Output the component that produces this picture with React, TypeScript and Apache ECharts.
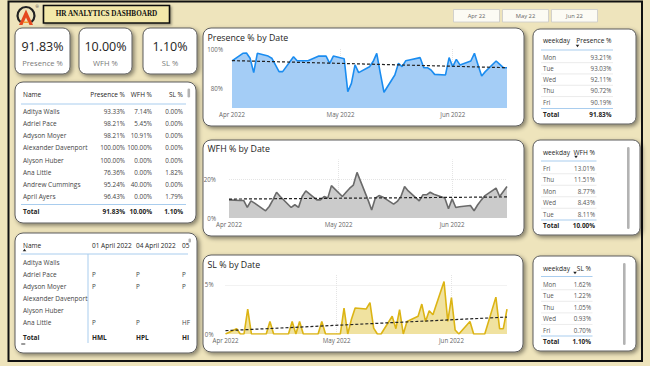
import React, { useEffect, useRef } from 'react';
import * as echarts from 'echarts';

// ---------- data ----------
const dates = [
  '2022-04-01', '2022-04-04', '2022-04-05', '2022-04-06', '2022-04-07', '2022-04-08',
  '2022-04-11', '2022-04-12', '2022-04-13', '2022-04-14', '2022-04-15',
  '2022-04-18', '2022-04-19', '2022-04-20', '2022-04-21', '2022-04-22',
  '2022-04-25', '2022-04-26', '2022-04-27', '2022-04-28', '2022-04-29',
  '2022-05-02', '2022-05-03', '2022-05-04', '2022-05-05', '2022-05-06',
  '2022-05-09', '2022-05-10', '2022-05-11', '2022-05-12', '2022-05-13',
  '2022-05-16', '2022-05-17', '2022-05-18', '2022-05-19', '2022-05-20',
  '2022-05-23', '2022-05-24', '2022-05-25', '2022-05-26', '2022-05-27',
  '2022-05-30', '2022-05-31', '2022-06-01', '2022-06-02', '2022-06-03',
  '2022-06-06', '2022-06-07', '2022-06-08', '2022-06-09', '2022-06-10',
  '2022-06-13', '2022-06-14', '2022-06-15', '2022-06-16',
];
const presenceValues = [
  94.0, 97.8, 98.0, 95.3, 88.0, 97.8,
  96.4, 95.3, 91.9, 88.5, 88.5,
  96.1, 94.0, 94.0, 94.0, 94.0,
  96.4, 96.4, 96.4, 92.7, 96.4,
  95.0, 78.3, 82.5, 91.9, 88.0,
  91.0, 93.6, 97.8, 87.6, 78.0,
  86.8, 92.7, 91.0, 94.0, 94.4,
  95.6, 90.5, 90.5, 89.3, 87.1,
  86.8, 95.6, 91.0, 94.7, 91.9,
  93.9, 97.8, 91.9, 86.3, 88.5,
  93.9, 92.2, 90.5, 90.5,
];
const wfhValues = [
  9.3, 9.0, 9.0, 5.4, 8.8, 7.6,
  3.7, 5.9, 9.3, 13.2, 11.0,
  5.4, 6.8, 5.4, 11.0, 13.9,
  9.3, 9.3, 11.0, 10.2, 16.6,
  11.0, 13.2, 15.3, 16.9, 23.4,
  9.3, 4.1, 10.2, 11.5, 10.8,
  7.1, 8.5, 11.0, 16.1, 13.9,
  8.8, 11.9, 11.9, 13.2, 12.2,
  10.2, 4.7, 9.8, 5.4, 5.8,
  6.4, 3.7, 6.8, 9.3, 11.5,
  15.3, 11.0, 13.6, 16.1,
];
const slValues = [
  0, 0.54, 0, 0, 2.53, 0,
  0, 0, 1.28, 0, 0,
  0, 1.28, 0, 1.28, 0,
  0, 0, 1.28, 0, 0,
  0, 2.64, 0, 1.5, 2.64,
  2.55, 3.2, 0.6, 0, 0,
  1.8, 0.54, 2.47, 0, 1.28,
  1.8, 3.04, 1.28, 2.36, 1.96,
  5.34, 1.28, 3.7, 0.4, 0,
  1.28, 0, 0, 0, 0,
  3.75, 0.54, 0.54, 2.53,
];
const presenceTrend = [94.1, 90.5];
const wfhTrend = [9.7, 10.8];
const slTrend = [0.34, 1.72];

const monthTicks = ['2022-04-01', '2022-05-01', '2022-06-01'];
const monthLabels = ['Apr 2022', 'May 2022', 'Jun 2022'];
const presenceAxisLabels = [80, 100];
const wfhAxisLabels = [0, 20];
const slAxisLabels = [0, 5];

const kpiValues = ['91.83%', '10.00%', '1.10%'];
const kpiLabels = ['Presence %', 'WFH %', 'SL %'];

const empColumns = ['Name', 'Presence %', 'WFH %', 'SL %'];
const empNames = ['Aditya Walls', 'Adriel Pace', 'Adyson Moyer', 'Alexander Davenport', 'Alyson Huber', 'Ana Little', 'Andrew Cummings', 'April Ayers'];
const empPresence = ['93.33%', '98.21%', '98.21%', '100.00%', '100.00%', '76.36%', '95.24%', '96.43%'];
const empWfh = ['7.14%', '5.45%', '10.91%', '100.00%', '0.00%', '0.00%', '40.00%', '0.00%'];
const empSl = ['0.00%', '0.00%', '0.00%', '0.00%', '0.00%', '1.82%', '0.00%', '1.79%'];
const empTotals = ['91.83%', '10.00%', '1.10%'];

const attNames = ['Aditya Walls', 'Adriel Pace', 'Adyson Moyer', 'Alexander Davenport', 'Alyson Huber', 'Ana Little'];
const attColumns = ['01 April 2022', '04 April 2022', '05'];
const attCells = [
  ['', '', ''],
  ['P', 'P', 'P'],
  ['P', 'P', 'P'],
  ['', '', ''],
  ['', '', ''],
  ['P', 'P', 'HF'],
];
const attTotals = ['HML', 'HPL', 'HI'];

const presenceWeekdays = ['Mon', 'Tue', 'Wed', 'Thu', 'Fri'];
const presenceByWeekday = ['93.21%', '93.03%', '92.11%', '90.72%', '90.19%'];
const wfhWeekdays = ['Fri', 'Thu', 'Mon', 'Wed', 'Tue'];
const wfhByWeekday = ['13.01%', '11.51%', '8.77%', '8.43%', '8.11%'];
const slWeekdays = ['Mon', 'Tue', 'Thu', 'Wed', 'Fri'];
const slByWeekday = ['1.62%', '1.22%', '1.05%', '0.93%', '0.70%'];
const weekdayTotals = ['91.83%', '10.00%', '1.10%'];

const monthButtons = ['Apr 22', 'May 22', 'Jun 22'];

// ---------- helpers ----------
const FONT = '"Segoe UI", "Open Sans", sans-serif';
const DAY = 86400000;
const toTs = (s: string) => new Date(s).getTime(); // date-only ISO => UTC midnight
const monthTs = monthTicks.map(toTs);

function txt(x: number, y: number, s: string, o: any = {}) {
  const align = o.align || 'left';
  return {
    type: 'text', x, y, z: 100, silent: true,
    style: {
      text: s,
      fill: o.color || '#333',
      fontSize: o.size || 6.5,
      fontFamily: o.family || FONT,
      fontWeight: o.weight || 'normal',
      align, textAlign: align,
      verticalAlign: 'middle', textVerticalAlign: 'middle',
    },
  };
}
function hline(x1: number, x2: number, y: number, color: string, w = 1) {
  return { type: 'line', z: 50, silent: true, shape: { x1, y1: y, x2, y2: y }, style: { stroke: color, lineWidth: w } };
}
function vline(x: number, y1: number, y2: number, color: string, w = 1) {
  return { type: 'line', z: 50, silent: true, shape: { x1: x, y1, x2: x, y2 }, style: { stroke: color, lineWidth: w } };
}
function panel(x1: number, y1: number, x2: number, y2: number, r = 7) {
  return {
    type: 'rect', z: 1, silent: true,
    shape: { x: x1, y: y1, width: x2 - x1, height: y2 - y1, r },
    style: { fill: '#ffffff', stroke: '#5c5c5c', lineWidth: 1, shadowBlur: 4, shadowOffsetX: 2, shadowOffsetY: 2, shadowColor: 'rgba(0,0,0,0.45)' },
  };
}
function sortArrow(x: number, y: number, up = false) {
  const pts = up ? [[x - 1.8, y + 1.2], [x + 1.8, y + 1.2], [x, y - 1.2]] : [[x - 1.8, y - 1.2], [x + 1.8, y - 1.2], [x, y + 1.2]];
  return { type: 'polygon', z: 60, silent: true, shape: { points: pts }, style: { fill: '#222' } };
}
function scrollBar(x: number, y1: number, y2: number) {
  return { type: 'rect', z: 60, silent: true, shape: { x, y: y1, width: 2.6, height: y2 - y1, r: 1.3 }, style: { fill: '#b3b3b3' } };
}

const BLUE_LINE = '#a9cdee';
const ROW_LINE = '#e6e6e6';
const HEAD = '#252423';
const BODY = '#444';

function weekdayTable(cfg: any, names: string[], values: string[], header: string, total: string) {
  const out: any[] = [];
  out.push(txt(543, cfg.headY, 'weekday', { color: HEAD, size: 6.6 }));
  out.push(txt(cfg.right, cfg.headY, header, { color: HEAD, size: 6.6, align: 'right' }));
  out.push(sortArrow(cfg.arrowX, cfg.arrowY));
  out.push(hline(541, cfg.right + 1.5, cfg.headLine, BLUE_LINE, 1));
  names.forEach((n, i) => {
    const y = cfg.row0 + i * cfg.step;
    out.push(txt(543, y, n, { color: '#555', size: 6.2 }));
    out.push(txt(cfg.right, y, values[i], { color: '#555', size: 6.2, align: 'right' }));
    if (i < names.length - 1) out.push(hline(541, cfg.right + 1.5, y + cfg.step / 2, ROW_LINE, 0.8));
  });
  out.push(hline(541, cfg.right + 1.5, cfg.totLine, BLUE_LINE, 1));
  out.push(txt(543, cfg.totY, 'Total', { color: HEAD, size: 6.4, weight: 'bold' }));
  out.push(txt(cfg.right, cfg.totY, total, { color: HEAD, size: 6.4, weight: 'bold', align: 'right' }));
  return out;
}

function buildGraphics() {
  const g: any[] = [];
  g.push({ type: 'rect', z: 0, silent: true, shape: { x: 8.5, y: 1.5, width: 633.5, height: 359.5 }, style: { fill: 'none', stroke: '#111', lineWidth: 2 } });

  // logo
  g.push({ type: 'arc', z: 60, silent: true, shape: { cx: 26, cy: 15.5, r: 8.5, startAngle: Math.PI / 2 + 0.7, endAngle: Math.PI / 2 - 0.7 + Math.PI * 2, clockwise: true }, style: { stroke: '#222', lineWidth: 2.2, fill: 'none' } });
  g.push({ type: 'polygon', z: 61, silent: true, shape: { points: [[19, 25], [26, 9.5], [33, 25], [29.5, 25], [26, 17.5], [22.5, 25]] }, style: { fill: '#e5481f' } });
  g.push({ type: 'polygon', z: 62, silent: true, shape: { points: [[23.8, 21.5], [28.2, 21.5], [28.8, 23], [23.2, 23]] }, style: { fill: '#f29a2e' } });
  g.push(txt(35.5, 6.5, '®', { size: 4, color: '#333' }));

  // title box
  g.push({ type: 'rect', z: 5, silent: true, shape: { x: 43.5, y: 5.5, width: 126, height: 17.5 }, style: { fill: '#f3e8a9', stroke: '#111', lineWidth: 1.6, shadowBlur: 2, shadowOffsetX: 1.5, shadowOffsetY: 1.5, shadowColor: 'rgba(0,0,0,0.35)' } });
  g.push(txt(106.5, 14.3, 'HR ANALYTICS DASHBOARD', { size: 7.2, weight: 'bold', family: '"Liberation Serif", "DejaVu Serif", serif', color: '#111', align: 'center' }));

  // month buttons
  const btnX = [453, 502, 551];
  monthButtons.forEach((m, i) => {
    g.push({ type: 'rect', z: 5, silent: true, shape: { x: btnX[i] + 0.5, y: 9.5, width: 46, height: 12.5 }, style: { fill: '#fcfbf4', stroke: '#c9c9c9', lineWidth: 0.8 } });
    g.push(txt(btnX[i] + 23.5, 15.8, m, { size: 5.8, color: '#666', align: 'center' }));
  });

  // KPI cards
  const kpiBox = [[15, 70], [79, 132], [143, 197]];
  kpiBox.forEach((b, i) => {
    g.push(panel(b[0], 28, b[1], 74, 7));
    g.push(txt((b[0] + b[1]) / 2, 46.5, kpiValues[i], { size: 12.5, color: HEAD, align: 'center' }));
    g.push(txt((b[0] + b[1]) / 2, 63.3, kpiLabels[i], { size: 7.6, color: '#7a7a7a', align: 'center' }));
  });

  // employee table
  g.push(panel(15, 82, 196, 223, 8));
  const colR = [125, 152, 183];
  g.push(txt(23, 94, empColumns[0], { color: HEAD, size: 6.5 }));
  for (let c = 0; c < 3; c++) g.push(txt(colR[c], 94, empColumns[c + 1], { color: HEAD, size: 6.5, align: 'right' }));
  g.push(scrollBar(187.5, 88.5, 97.5));
  g.push(hline(21, 186, 104, BLUE_LINE, 1));
  empNames.forEach((n, i) => {
    const y = 111 + i * 12.25;
    g.push(txt(23, y, n, { color: BODY, size: 6.5 }));
    g.push(txt(colR[0], y, empPresence[i], { color: BODY, size: 6.3, align: 'right' }));
    g.push(txt(colR[1], y, empWfh[i], { color: BODY, size: 6.3, align: 'right' }));
    g.push(txt(colR[2], y, empSl[i], { color: BODY, size: 6.3, align: 'right' }));
  });
  g.push(hline(21, 186, 204.5, BLUE_LINE, 1));
  g.push(txt(23, 211.5, 'Total', { color: HEAD, size: 6.5, weight: 'bold' }));
  empTotals.forEach((t, c) => g.push(txt(colR[c], 211.5, t, { color: HEAD, size: 6.5, weight: 'bold', align: 'right' })));

  // attendance matrix
  g.push(panel(15, 233, 197, 353, 8));
  const attX = [92, 136, 182];
  g.push(txt(23, 245, 'Name', { color: HEAD, size: 6.5 }));
  g.push(sortArrow(24.5, 250, true));
  attColumns.forEach((c, i) => g.push(txt(attX[i], 245, c, { color: HEAD, size: 6.5 })));
  g.push({ type: 'rect', z: 60, silent: true, shape: { x: 188.5, y: 238.5, width: 2.5, height: 4, r: 1 }, style: { fill: '#b3b3b3' } });
  g.push(hline(21, 188, 254, BLUE_LINE, 1));
  g.push(vline(88, 254, 343, BLUE_LINE, 1));
  attNames.forEach((n, i) => {
    const y = 262 + i * 12;
    g.push(txt(23, y, n, { color: BODY, size: 6.5 }));
    attCells[i].forEach((v, c) => { if (v) g.push(txt(attX[c], y, v, { color: BODY, size: 6.3 })); });
  });
  g.push(txt(23, 337.5, 'Total', { color: HEAD, size: 6.5, weight: 'bold' }));
  attTotals.forEach((t, c) => g.push(txt(attX[c], 337.5, t, { color: HEAD, size: 6.5, weight: 'bold' })));
  g.push({ type: 'rect', z: 60, silent: true, shape: { x: 21, y: 343, width: 4.5, height: 2, r: 1 }, style: { fill: '#9a9a9a' } });

  // chart panels + titles
  g.push(panel(203, 28, 524, 126, 8));
  g.push(panel(203, 140, 524, 236, 8));
  g.push(panel(203, 255, 523, 352, 8));
  g.push(txt(207.5, 37.5, 'Presence % by Date', { size: 8.8, color: HEAD }));
  g.push(txt(207.5, 148.5, 'WFH % by Date', { size: 8.8, color: HEAD }));
  g.push(txt(207.5, 264.5, 'SL % by Date', { size: 8.8, color: HEAD }));

  // weekday tables
  g.push(panel(533, 29, 636, 124, 7));
  g.push(...weekdayTable({ headY: 40, right: 611.5, arrowX: 577.5, arrowY: 46, headLine: 50, row0: 57, step: 11.3, totLine: 108.5, totY: 114.5 }, presenceWeekdays, presenceByWeekday, 'Presence %', weekdayTotals[0]));
  g.push(panel(533, 140, 640, 235, 7));
  g.push(...weekdayTable({ headY: 152, right: 595, arrowX: 576, arrowY: 157, headLine: 161, row0: 168, step: 11.5, totLine: 220, totY: 225.5 }, wfhWeekdays, wfhByWeekday, 'WFH %', weekdayTotals[1]));
  g.push(scrollBar(627, 147, 229));
  g.push(panel(533, 256, 636, 351, 7));
  g.push(...weekdayTable({ headY: 268, right: 591, arrowX: 575, arrowY: 273, headLine: 276.5, row0: 284, step: 11.55, totLine: 336, totY: 341.5 }, slWeekdays, slByWeekday, 'SL %', weekdayTotals[2]));
  g.push(scrollBar(623, 263, 345));
  return g;
}

function xAxisCfg(gridIndex: number) {
  return {
    type: 'value', gridIndex, z: 50,
    min: toTs(dates[0]), max: toTs(dates[dates.length - 1]), interval: DAY,
    axisLine: { show: false }, axisTick: { show: false }, splitLine: { show: false },
    axisLabel: {
      hideOverlap: false,
      showMinLabel: true, showMaxLabel: false,
      margin: 3.5,
      fontSize: 6.2, color: '#666', fontFamily: FONT,
      formatter: (v: number) => { const i = monthTs.indexOf(v); return i >= 0 ? monthLabels[i] : ''; },
    },
  };
}
function yAxisCfg(gridIndex: number, min: number, max: number, interval: number, shown: number[], margin: number) {
  return {
    type: 'value', gridIndex, min, max, interval, z: 50,
    axisLine: { show: false }, axisTick: { show: false }, splitLine: { show: false },
    axisLabel: {
      margin, fontSize: 6.2, color: '#666', fontFamily: FONT,
      formatter: (v: number) => (shown.indexOf(v) >= 0 ? v + '%' : ''),
    },
  };
}
function areaSeries(idx: number, values: number[], line: string, area: string, gridY: number[]) {
  const marks: any[] = monthTs.slice(1).map((t) => ({ xAxis: t }));
  gridY.forEach((y) => marks.push({ yAxis: y }));
  return {
    type: 'line', xAxisIndex: idx, yAxisIndex: idx, z: 20,
    data: dates.map((d, i) => [toTs(d), values[i]]),
    symbol: 'none', lineStyle: { color: line, width: 1.6 },
    areaStyle: { color: area, opacity: 1, origin: 'start' },
    silent: true,
    markLine: {
      silent: true, symbol: ['none', 'none'], label: { show: false },
      lineStyle: { color: '#e4e4e4', type: 'dotted', width: 1 },
      data: marks,
    },
  };
}
function trendSeries(idx: number, trend: number[]) {
  return {
    type: 'line', xAxisIndex: idx, yAxisIndex: idx, z: 25, silent: true,
    data: [[toTs(dates[0]), trend[0]], [toTs(dates[dates.length - 1]), trend[1]]],
    symbol: 'none', lineStyle: { color: '#222', width: 1.2, type: [3, 2] },
  };
}

export default function App() {
  const ref = useRef<HTMLDivElement>(null);
  useEffect(() => {
    if (!ref.current) return;
    const chart = echarts.init(ref.current, null, { renderer: 'svg' });
    chart.setOption({
      animation: false,
      backgroundColor: '#eee4bc',
      grid: [
        { left: 232, top: 49, width: 275, height: 59 },
        { left: 229, top: 159.5, width: 278, height: 58.5 },
        { left: 225.5, top: 275, width: 281.5, height: 59 },
      ],
      xAxis: [xAxisCfg(0), xAxisCfg(1), xAxisCfg(2)],
      yAxis: [
        yAxisCfg(0, 70, 100, 10, presenceAxisLabels, 9),
        yAxisCfg(1, 0, 30, 10, wfhAxisLabels, 13),
        yAxisCfg(2, 0, 6, 1, slAxisLabels, 12),
      ],
      series: [
        areaSeries(0, presenceValues, '#1a8cf0', '#a4cdf6', []),
        trendSeries(0, presenceTrend),
        areaSeries(1, wfhValues, '#6a6a6a', '#cbcbcb', [20]),
        trendSeries(1, wfhTrend),
        areaSeries(2, slValues, '#dcb414', '#f0e2a0', [5]),
        trendSeries(2, slTrend),
      ],
      graphic: { elements: buildGraphics() },
    });
    return () => chart.dispose();
  }, []);
  return <div ref={ref} style={{ position: 'absolute', left: 0, top: 0, width: 650, height: 366 }} />;
}
